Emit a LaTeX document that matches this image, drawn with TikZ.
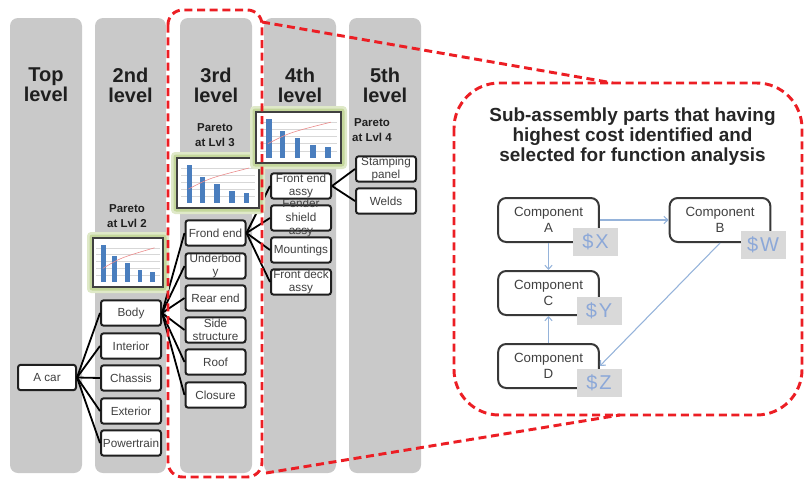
\documentclass[tikz,border=0pt]{standalone}
\usepackage{fontspec}
\setmainfont{Liberation Sans}
\usetikzlibrary{arrows.meta}

\definecolor{colgray}{RGB}{201,201,201}
\definecolor{dashred}{RGB}{236,30,36}
\definecolor{glowgreen}{RGB}{196,215,155}
\definecolor{barblue}{RGB}{74,126,190}
\definecolor{tagblue}{RGB}{140,168,216}
\definecolor{taggray}{RGB}{217,217,217}
\definecolor{linkblue}{RGB}{149,179,218}
\definecolor{boxtext}{RGB}{64,64,64}
\definecolor{gridgray}{RGB}{215,215,215}
\definecolor{cumred}{RGB}{235,140,140}

% Pareto chart: #1,#2 = top-left corner, #3,#4 = bottom-right corner (px)
\newcommand{\paretochart}[4]{%
  \fill[glowgreen!55, rounded corners=3pt] (#1-6,#2-6) rectangle (#3+6,#4+6);
  \fill[glowgreen, rounded corners=2pt] (#1-3.5,#2-3.5) rectangle (#3+3.5,#4+3.5);
  \begin{scope}[shift={(#1,#2)}, xscale={#3-#1}, yscale={#4-#2}]
    \fill[white] (0,0) rectangle (1,1);
    \foreach \v in {0.2,0.34,0.48,0.62,0.76} {
      \draw[gridgray, line width=0.3pt] (0.05,\v) -- (0.95,\v);
    }
    \foreach \c/\t in {0.15/0.14, 0.31/0.37, 0.49/0.51, 0.67/0.65, 0.85/0.69} {
      \fill[barblue] (\c-0.033,\t) rectangle (\c+0.033,0.9);
    }
    \draw[cumred, line width=0.45pt] (0.14,0.62) .. controls (0.4,0.4) .. (0.88,0.2);
    \draw[black!75, line width=1.4pt] (0,0) rectangle (1,1);
  \end{scope}%
}

\begin{document}
\begin{tikzpicture}[x=0.75pt, y=-0.75pt,
  column/.style={fill=colgray, rounded corners=6pt},
  leveltitle/.style={font=\fontsize{15}{15}\selectfont\bfseries, align=center,
    inner sep=0pt, text=black!88},
  paretolabel/.style={font=\fontsize{8.6}{11.25}\selectfont\bfseries, align=center,
    inner sep=0pt, text=black!88},
  partbox/.style={draw=black!88, line width=1.5pt, fill=white, rounded corners=2pt,
    minimum width=45pt, minimum height=19pt, inner sep=0pt, align=center,
    font=\fontsize{8.8}{10}\selectfont, text=boxtext},
  parttext/.style={inner sep=0pt, align=center, font=\fontsize{8.8}{10}\selectfont,
    text=boxtext},
  treeline/.style={draw=black, line width=1.35pt},
  zoomline/.style={draw=dashred, line width=2.2pt, dash pattern=on 6pt off 3.5pt},
  compbox/.style={draw=black!78, line width=1.5pt, fill=white, rounded corners=6pt,
    minimum width=75.5pt, minimum height=33pt, inner sep=0pt, align=center,
    font=\fontsize{10}{12}\selectfont, text=boxtext},
  costtag/.style={fill=taggray, minimum width=33.75pt, minimum height=21pt,
    inner sep=0pt, font=\fontsize{15}{15}\selectfont, text=tagblue},
  link/.style={draw=linkblue, line width=0.8pt,
    -{Straight Barb[length=3pt, width=5.5pt]}},
]
\useasboundingbox (0,0) rectangle (804,479);

% level columns
\foreach \a/\b in {10/82, 95/166, 180/252, 264/336, 349/421}
  \fill[column] (\a,18) rectangle (\b,473);

% level titles
\node[leveltitle] (lv1) at (46,85)    {Top\\level};
\node[leveltitle] (lv2) at (130.5,85) {2nd\\level};
\node[leveltitle] (lv3) at (216,85)   {3rd\\level};
\node[leveltitle] (lv4) at (300,85)   {4th\\level};
\node[leveltitle] (lv5) at (385,85)   {5th\\level};

% pareto captions
\node[paretolabel] (p2) at (127,216.5) {Pareto\\at Lvl 2};
\node[paretolabel] (p3) at (215,135.5) {Pareto\\at Lvl 3};
\node[paretolabel] (p4) at (372,130)   {Pareto\\at Lvl 4};

% breakdown tree
\node[partbox, minimum width=43.5pt] (car) at (47,377.5) {A car};

\node[partbox] (body)  at (131,313) {Body};
\node[partbox] (inter) at (131,346) {Interior};
\node[partbox] (chas)  at (131,378) {Chassis};
\node[partbox] (ext)   at (131,411) {Exterior};
\node[partbox] (pwr)   at (131,443) {Powertrain};

\node[partbox] (front) at (215.5,233) {Frond end};
\node[partbox] (under) at (215.5,266) {Underbod\\y};
\node[partbox] (rear)  at (215.5,298) {Rear end};
\node[partbox] (side)  at (215.5,330) {Side\\structure};
\node[partbox] (roof)  at (215.5,362) {Roof};
\node[partbox] (clos)  at (215.5,395) {Closure};

\node[partbox] (fea)    at (301,186) {Front end\\assy};
\node[partbox] (fender) at (301,218) {};
\node[parttext] (fendertxt) at (fender) {Fender\\shield\\assy};
\node[partbox] (mount)  at (301,250) {Mountings};
\node[partbox] (deck)   at (301,282) {Front deck\\assy};

\node[partbox] (stamp) at (386,169) {Stamping\\panel};
\node[partbox] (weld)  at (386,201) {Welds};

\foreach \c in {body,inter,chas,ext,pwr}
  \draw[treeline] (car.east) -- (\c.west);
\foreach \c in {front,under,rear,side,roof,clos}
  \draw[treeline] (body.east) -- (\c.west);
\foreach \c in {fea,fender,mount,deck}
  \draw[treeline] (front.east) -- (\c.west);
\foreach \c in {stamp,weld}
  \draw[treeline] (fea.east) -- (\c.west);

% pareto charts
\paretochart{93}{238}{163}{287}
\paretochart{177}{158}{259}{208}
\paretochart{256}{112}{341}{163}

% detail panel
\node[font=\fontsize{14.2}{15}\selectfont\bfseries, align=center, inner sep=0pt,
  text=black!85] (ptitle) at (632.5,137)
  {Sub-assembly parts that having\\highest cost identified and\\selected for function analysis};

\node[compbox] (ca) at (548.5,220) {Component\\A};
\node[compbox] (cb) at (720,220)   {Component\\B};
\node[compbox] (cc) at (548.5,293) {Component\\C};
\node[compbox] (cd) at (548.5,366) {Component\\D};

\draw[link] (ca.east) -- (cb.west);
\draw[link] (ca.south) -- (cc.north);
\draw[link] (cd.north) -- (cc.south);
\draw[link] (cb.south) -- (cd.east);

\node[costtag] (tx) at (595.5,242)   {\$\kern1.5pt X};
\node[costtag] (tw) at (763,244.5)   {\$\kern1.5pt W};
\node[costtag] (ty) at (599,310.5)   {\$\kern1.5pt Y};
\node[costtag] (tz) at (599,383)     {\$\kern1.5pt Z};

% zoom-out outline around the 3rd level and the callout
\draw[zoomline, rounded corners=11pt] (168,10) rectangle (262,477);
\draw[zoomline, rounded corners=34pt] (454,83) rectangle (802,415);
\coordinate (zt1) at (262,22);
\coordinate (zt2) at (613,83);
\coordinate (zb1) at (266,473);
\coordinate (zb2) at (620,415);
\draw[zoomline] (zt1) -- (zt2);
\draw[zoomline] (zb1) -- (zb2);
\end{tikzpicture}
\end{document}
